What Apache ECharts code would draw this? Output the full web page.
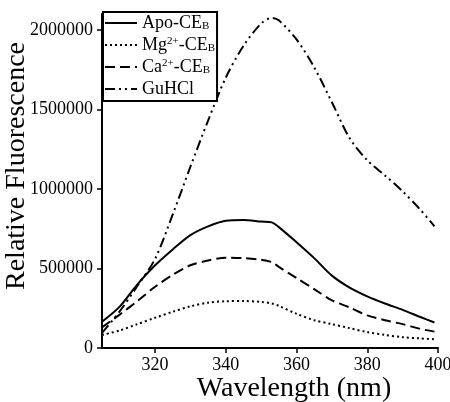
<!DOCTYPE html>
<html>
<head>
<meta charset="utf-8">
<script src="https://cdn.jsdelivr.net/npm/echarts@6/dist/echarts.min.js"></script>
<style>
  html, body { margin: 0; padding: 0; background: #fff; }
  #chart { width: 450px; height: 402px; }
</style>
</head>
<body>
<div id="chart"></div>
<script>
// wavelength (nm)
const wavelengths = [305, 310, 315, 320, 325, 330, 335, 340, 345, 350, 353, 355, 360, 365, 370, 375, 380, 385, 390, 395, 399]

// relative fluorescence
const apo = [165000, 260000, 400000, 520000, 620000, 710000, 765000, 800000, 805000, 795000, 790000, 760000, 665000, 565000, 455000, 380000, 325000, 280000, 240000, 195000, 160000]
const mg = [82000, 110000, 150000, 190000, 228000, 262000, 285000, 294000, 295000, 290000, 280000, 265000, 215000, 175000, 150000, 125000, 100000, 82000, 68000, 60000, 55000]
const ca = [130000, 210000, 295000, 385000, 460000, 520000, 550000, 568000, 565000, 555000, 540000, 510000, 440000, 370000, 300000, 255000, 205000, 175000, 150000, 120000, 103000]
const guhcl = [95000, 230000, 390000, 560000, 840000, 1140000, 1430000, 1700000, 1900000, 2040000, 2075000, 2060000, 1940000, 1765000, 1545000, 1320000, 1180000, 1085000, 985000, 870000, 765000]

const xTicks = [320, 340, 360, 380, 400]
const yTicks = [0, 500000, 1000000, 1500000, 2000000]

const legendLabels = {
  'Apo-CEB': 'Apo-CE{sub|B}',
  'Mg2+-CEB': 'Mg{sup|2+}-CE{sub|B}',
  'Ca2+-CEB': 'Ca{sup|2+}-CE{sub|B}',
  'GuHCl': 'GuHCl'
}

const font = 'Liberation Serif, Times New Roman, serif'

function pairs(ys) {
  return wavelengths.map((x, i) => [x, ys[i]])
}

function makeSeries(name, ys, dash) {
  return {
    name: name,
    type: 'line',
    data: pairs(ys),
    symbol: 'none',
    smooth: 0.3,
    lineStyle: { color: '#000', width: 2, type: dash, cap: 'butt' },
    // transparent so the legend shows only the line sample
    itemStyle: { color: 'rgba(0,0,0,0)', borderWidth: 0 }
  }
}

const chart = echarts.init(document.getElementById('chart'))

chart.setOption({
  backgroundColor: '#fff',
  animation: false,
  textStyle: { fontFamily: font, color: '#000' },
  grid: { left: 102, right: 12, top: 14, bottom: 54, outerBoundsMode: 'none' },
  legend: {
    left: 103,
    top: 12,
    orient: 'vertical',
    itemWidth: 32,
    itemHeight: 14,
    itemGap: 4,
    padding: [2, 2, 3, 1],
    borderColor: '#000',
    borderWidth: 2,
    backgroundColor: '#fff',
    formatter: name => legendLabels[name],
    textStyle: {
      fontFamily: font,
      fontSize: 18,
      lineHeight: 18,
      color: '#000',
      rich: {
        sub: { fontFamily: font, fontSize: 11, color: '#000', verticalAlign: 'bottom', lineHeight: 12 },
        sup: { fontFamily: font, fontSize: 11, color: '#000', verticalAlign: 'top', lineHeight: 12 }
      }
    }
  },
  xAxis: {
    type: 'value',
    min: 305,
    max: 400,
    name: 'Wavelength (nm)',
    nameLocation: 'middle',
    nameGap: 27,
    nameMoveOverlap: false,
    nameTextStyle: { fontFamily: font, fontSize: 28, color: '#000', padding: [0, 0, 0, 48] },
    splitLine: { show: false },
    axisLine: { lineStyle: { color: '#000', width: 2 } },
    axisTick: { customValues: xTicks, length: 5, lineStyle: { color: '#000', width: 1.5 } },
    axisLabel: { customValues: xTicks, fontFamily: font, fontSize: 18, color: '#000', margin: 8, formatter: v => String(v) }
  },
  yAxis: {
    type: 'value',
    min: 0,
    max: 2100000,
    name: 'Relative Fluorescence',
    nameLocation: 'middle',
    nameGap: 71,
    nameMoveOverlap: false,
    nameTextStyle: { fontFamily: font, fontSize: 28, color: '#000', padding: [0, 0, 0, 30] },
    splitLine: { show: false },
    axisLine: { show: true, lineStyle: { color: '#000', width: 2 } },
    axisTick: { show: true, customValues: yTicks, length: 5, lineStyle: { color: '#000', width: 1.5 } },
    axisLabel: { customValues: yTicks, fontFamily: font, fontSize: 18, color: '#000', margin: 9, formatter: v => String(v) }
  },
  series: [
    makeSeries('Apo-CEB', apo, 'solid'),
    makeSeries('Mg2+-CEB', mg, [2, 3]),
    makeSeries('Ca2+-CEB', ca, [10, 5]),
    makeSeries('GuHCl', guhcl, [10, 4, 2, 4, 2, 4])
  ]
})
</script>
</body>
</html>
